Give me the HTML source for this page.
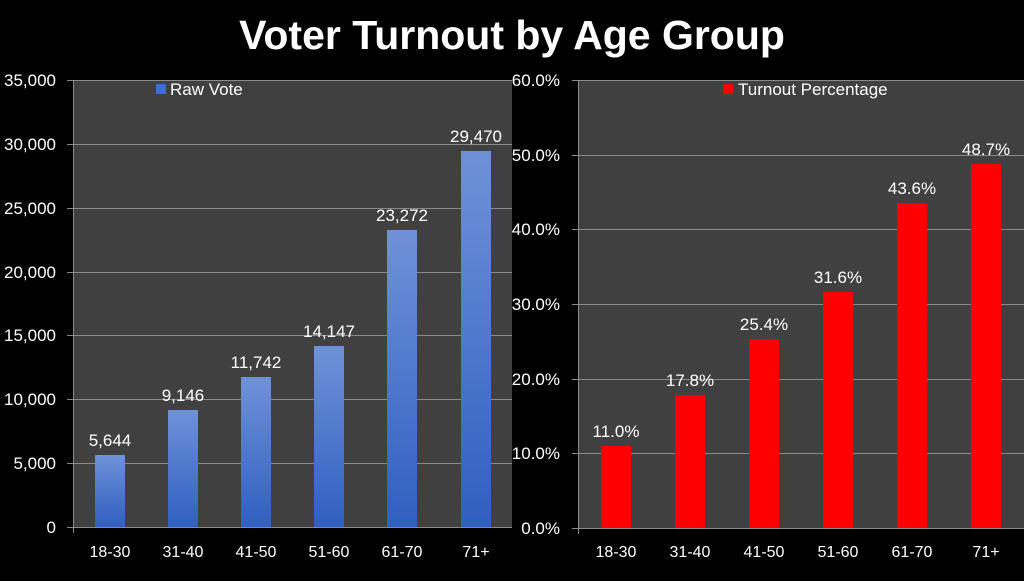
<!DOCTYPE html><html><head><style>body{margin:0;background:#000;width:1024px;height:576px;overflow:hidden}</style></head><body>
<svg width="1024" height="576" xmlns="http://www.w3.org/2000/svg" font-family="Liberation Sans, sans-serif">
<defs><linearGradient id="b" x1="0" y1="0" x2="0" y2="1"><stop offset="0" stop-color="#6f91d8"/><stop offset="1" stop-color="#2f5fc0"/></linearGradient></defs>
<rect width="1024" height="576" fill="#000"/>
<text x="512" y="49" text-anchor="middle" fill="#fff" font-size="41" font-weight="bold">Voter Turnout by Age Group</text>
<rect x="73" y="80" width="439" height="447" fill="#404040"/>
<g stroke="#8a8a8a" stroke-width="1">
<line x1="67" y1="80.5" x2="512" y2="80.5"/><line x1="67" y1="144.5" x2="512" y2="144.5"/><line x1="67" y1="208.5" x2="512" y2="208.5"/><line x1="67" y1="272.5" x2="512" y2="272.5"/><line x1="67" y1="335.5" x2="512" y2="335.5"/><line x1="67" y1="399.5" x2="512" y2="399.5"/><line x1="67" y1="463.5" x2="512" y2="463.5"/><line x1="67" y1="527.5" x2="512" y2="527.5"/><line x1="73.5" y1="80" x2="73.5" y2="533"/></g>
<g fill="#fff" font-size="17" text-anchor="end">
<text x="56" y="86">35,000</text><text x="56" y="150">30,000</text><text x="56" y="214">25,000</text><text x="56" y="278">20,000</text><text x="56" y="341">15,000</text><text x="56" y="405">10,000</text><text x="56" y="469">5,000</text><text x="56" y="533">0</text></g>
<g fill="url(#b)">
<rect x="95" y="455" width="30" height="72"/><rect x="168" y="410" width="30" height="117"/><rect x="241" y="377" width="30" height="150"/><rect x="314" y="346" width="30" height="181"/><rect x="387" y="230" width="30" height="297"/><rect x="461" y="151" width="30" height="376"/></g>
<g fill="#fff" font-size="17" text-anchor="middle">
<text x="110" y="446">5,644</text><text x="183" y="401">9,146</text><text x="256" y="368">11,742</text><text x="329" y="337">14,147</text><text x="402" y="221">23,272</text><text x="476" y="142">29,470</text></g>
<g fill="#fff" font-size="16" text-anchor="middle">
<text x="110" y="557">18-30</text><text x="183" y="557">31-40</text><text x="256" y="557">41-50</text><text x="329" y="557">51-60</text><text x="402" y="557">61-70</text><text x="476" y="557">71+</text></g>
<rect x="156" y="84" width="10" height="10" fill="#3a6fd0"/><text x="170" y="95" fill="#fff" font-size="17">Raw Vote</text>
<rect x="578" y="80" width="446" height="448" fill="#404040"/>
<g stroke="#8a8a8a" stroke-width="1">
<line x1="572" y1="80.5" x2="1024" y2="80.5"/><line x1="572" y1="155.5" x2="1024" y2="155.5"/><line x1="572" y1="229.5" x2="1024" y2="229.5"/><line x1="572" y1="304.5" x2="1024" y2="304.5"/><line x1="572" y1="379.5" x2="1024" y2="379.5"/><line x1="572" y1="453.5" x2="1024" y2="453.5"/><line x1="572" y1="528.5" x2="1024" y2="528.5"/><line x1="578.5" y1="80" x2="578.5" y2="534"/></g>
<g fill="#fff" font-size="17" text-anchor="end">
<text x="560" y="86">60.0%</text><text x="560" y="161">50.0%</text><text x="560" y="235">40.0%</text><text x="560" y="310">30.0%</text><text x="560" y="385">20.0%</text><text x="560" y="459">10.0%</text><text x="560" y="534">0.0%</text></g>
<g fill="#ff0000">
<rect x="601" y="446" width="30" height="82"/><rect x="675" y="395" width="30" height="133"/><rect x="749" y="339" width="30" height="189"/><rect x="823" y="292" width="30" height="236"/><rect x="897" y="203" width="30" height="325"/><rect x="971" y="164" width="30" height="364"/></g>
<g fill="#fff" font-size="17" text-anchor="middle">
<text x="616" y="437">11.0%</text><text x="690" y="386">17.8%</text><text x="764" y="330">25.4%</text><text x="838" y="283">31.6%</text><text x="912" y="194">43.6%</text><text x="986" y="155">48.7%</text></g>
<g fill="#fff" font-size="16" text-anchor="middle">
<text x="616" y="557">18-30</text><text x="690" y="557">31-40</text><text x="764" y="557">41-50</text><text x="838" y="557">51-60</text><text x="912" y="557">61-70</text><text x="986" y="557">71+</text></g>
<rect x="723" y="84" width="10" height="10" fill="#ff0000"/><text x="738" y="95" fill="#fff" font-size="17">Turnout Percentage</text>
</svg></body></html>
